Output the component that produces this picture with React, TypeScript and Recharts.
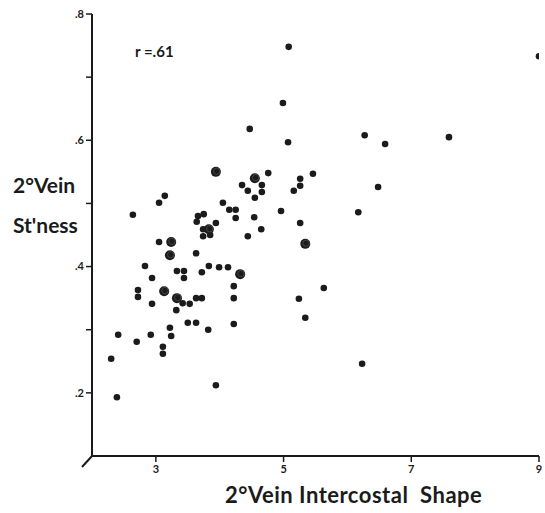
import React from 'react';
import { ScatterChart, Scatter, XAxis, YAxis, Customized } from 'recharts';

// Secondary vein intercostal shape (x) vs. secondary vein straightness (y)
const singlePoints: [number, number][] = [
  [5.08, 0.748], [4.99, 0.659], [4.47, 0.618], [5.07, 0.597], [6.27, 0.608], [6.59, 0.594],
  [7.59, 0.605], [9.0, 0.733], [6.48, 0.526], [6.17, 0.486], [6.23, 0.246],
  [4.76, 0.548], [4.35, 0.529], [4.66, 0.529], [4.44, 0.52], [4.66, 0.518], [4.55, 0.509],
  [5.26, 0.539], [5.26, 0.528], [5.46, 0.547], [5.16, 0.52],
  [4.05, 0.501], [4.15, 0.49], [4.25, 0.49], [4.25, 0.477], [4.54, 0.478], [4.96, 0.488],
  [3.94, 0.469], [5.26, 0.469], [4.65, 0.459], [4.44, 0.448],
  [3.14, 0.512], [3.05, 0.501], [2.64, 0.482], [3.66, 0.48], [3.75, 0.483], [3.64, 0.471],
  [3.74, 0.459], [3.74, 0.448], [3.85, 0.45], [3.05, 0.439], [3.63, 0.421],
  [2.83, 0.401], [3.83, 0.401], [3.33, 0.393], [3.44, 0.393], [3.44, 0.382], [3.72, 0.391],
  [3.99, 0.399], [4.13, 0.399],
  [4.22, 0.369], [4.22, 0.35], [4.22, 0.309], [5.63, 0.366], [5.24, 0.349], [5.34, 0.319],
  [3.94, 0.212],
  [2.94, 0.382], [2.72, 0.363], [2.72, 0.352], [2.94, 0.341], [3.42, 0.342], [3.53, 0.341],
  [3.63, 0.35], [3.72, 0.35], [3.32, 0.331], [3.5, 0.311], [3.63, 0.311], [3.82, 0.3],
  [3.22, 0.303], [3.24, 0.29], [2.41, 0.292], [2.92, 0.292], [2.7, 0.281], [3.11, 0.273],
  [3.11, 0.262], [2.3, 0.254], [2.39, 0.193],
];

// Coincident observations, drawn as larger rings
const doubledPoints: [number, number][] = [
  [3.94, 0.55], [4.55, 0.54], [5.34, 0.436], [3.83, 0.459], [3.24, 0.439],
  [3.22, 0.418], [4.32, 0.388], [3.13, 0.361], [3.33, 0.35],
];

const xTicks = [3, 5, 7, 9];
const yTicks = [0.2, 0.3, 0.4, 0.5, 0.6, 0.7, 0.8];
const yLabeled = [0.2, 0.4, 0.6, 0.8];
const correlationText = 'r =.61';
const xTitle = '2°Vein Intercostal  Shape';
const yTitleLines = ['2°Vein', "St'ness"];

const toRows = (pts: [number, number][]) => pts.map(([x, y]) => ({ x, y }));

const FONT = 'Lato, "DejaVu Sans", sans-serif';
const INK = '#1b1b1b';

const fmtY = (v: number) =>
  yLabeled.some((l) => Math.abs(l - v) < 1e-9) ? v.toFixed(1).replace(/^0/, '') : '';

const SmallDot = (p: any) => <circle cx={p.cx} cy={p.cy} r={3.3} fill={INK} />;
const BigDot = (p: any) => (
  <g>
    <circle cx={p.cx} cy={p.cy} r={5} fill={INK} />
    <circle cx={p.cx + 0.8} cy={p.cy - 0.6} r={3.2} fill="none" stroke="#5a5a5a" strokeWidth={0.6} />
  </g>
);

// Titles, the correlation note and the little spur at the axis origin
const Titles = () => (
  <g>
    <path d="M92,456 L82,467" stroke={INK} strokeWidth={2} fill="none" />
    <g fontFamily={FONT} fontWeight={700} fill={INK}>
      <text x={13} y={193} fontSize={21}>{yTitleLines[0]}</text>
      <text x={13} y={233} fontSize={21}>{yTitleLines[1]}</text>
      <text x={135} y={57} fontSize={15}>{correlationText}</text>
      <text x={225} y={503} fontSize={22} letterSpacing={0.5} style={{ whiteSpace: 'pre' }}>
        {xTitle}
      </text>
    </g>
  </g>
);

export default function App() {
  const tickStyle = { fontSize: 11, fontWeight: 700, fill: INK, fontFamily: FONT };
  return (
    <div style={{ position: 'absolute', left: 0, top: 0, background: '#fff' }}>
      <ScatterChart width={545} height={513} margin={{ top: 14, right: 6, bottom: 27, left: 52 }}>
        <XAxis
          type="number"
          dataKey="x"
          domain={[2, 9]}
          ticks={xTicks}
          height={30}
          axisLine={{ stroke: INK, strokeWidth: 2 }}
          tickLine={{ stroke: INK, strokeWidth: 1.5 }}
          tickSize={6}
          tickMargin={3}
          tick={tickStyle}
          allowDataOverflow
        />
        <YAxis
          type="number"
          dataKey="y"
          domain={[0.1, 0.8]}
          ticks={yTicks}
          width={40}
          axisLine={{ stroke: INK, strokeWidth: 2 }}
          tickLine={{ stroke: INK, strokeWidth: 1.5 }}
          tickSize={6}
          tickMargin={2}
          tick={tickStyle}
          tickFormatter={fmtY}
          allowDataOverflow
        />
        <Scatter data={toRows(singlePoints)} shape={SmallDot} isAnimationActive={false} />
        <Scatter data={toRows(doubledPoints)} shape={BigDot} isAnimationActive={false} />
        <Customized component={Titles} />
      </ScatterChart>
    </div>
  );
}
